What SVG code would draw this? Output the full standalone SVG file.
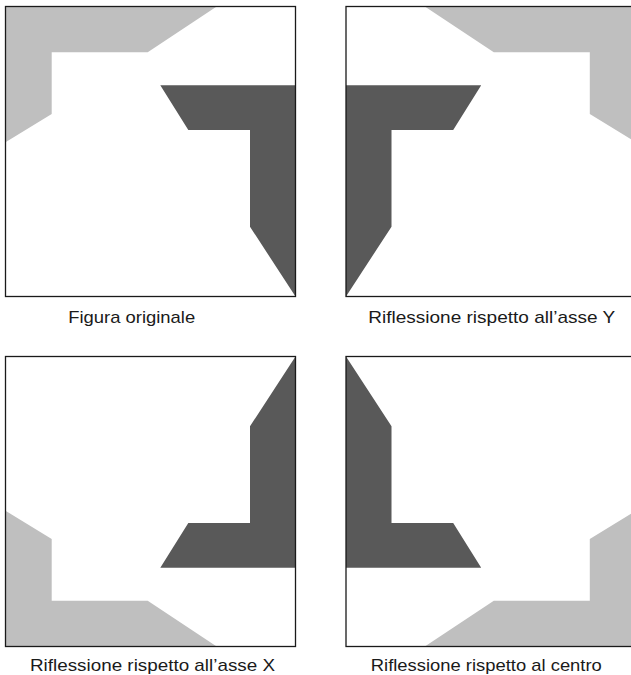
<svg xmlns="http://www.w3.org/2000/svg" xmlns:xlink="http://www.w3.org/1999/xlink" width="631" height="675" viewBox="0 0 631 675">
  <style>
    .light { fill: #bfbfbf; }
    .dark { fill: #595959; }
    .frame { fill: none; stroke: #1a1a1a; stroke-width: 1.3; }
    .lbl { font-family: "Liberation Sans", Arial, sans-serif; font-size: 17px; fill: #1a1a1a; }
  </style>
  <defs>
    <g id="fig">
      <rect x="0" y="0" width="290" height="290" fill="#ffffff"/>
      <polygon class="light" points="0,0 211.2,0 142.2,45.8 46.2,45.8 46.2,107.5 0,135.8"/>
      <polygon class="dark" points="154.8,78.8 290,78.8 290,290 244.5,220.2 244.5,123.5 182.8,123.5"/>
      <rect class="frame" x="0" y="0" width="290" height="290"/>
    </g>
  </defs>
  <g id="original">
    <use xlink:href="#fig" transform="translate(5.5,6.5)"/>
    <text class="lbl" x="131.7" y="322.7" text-anchor="middle" textLength="127" lengthAdjust="spacingAndGlyphs">Figura originale</text>
  </g>
  <g id="reflect-y">
    <use xlink:href="#fig" transform="translate(636,6.5) scale(-1,1)"/>
    <text class="lbl" x="491.7" y="322.7" text-anchor="middle" textLength="247" lengthAdjust="spacingAndGlyphs">Riflessione rispetto all’asse Y</text>
  </g>
  <g id="reflect-x">
    <use xlink:href="#fig" transform="translate(5.5,646.5) scale(1,-1)"/>
    <text class="lbl" x="152.5" y="671" text-anchor="middle" textLength="245" lengthAdjust="spacingAndGlyphs">Riflessione rispetto all’asse X</text>
  </g>
  <g id="reflect-center">
    <use xlink:href="#fig" transform="translate(636,646.5) scale(-1,-1)"/>
    <text class="lbl" x="486.3" y="671" text-anchor="middle" textLength="231" lengthAdjust="spacingAndGlyphs">Riflessione rispetto al centro</text>
  </g>
</svg>
